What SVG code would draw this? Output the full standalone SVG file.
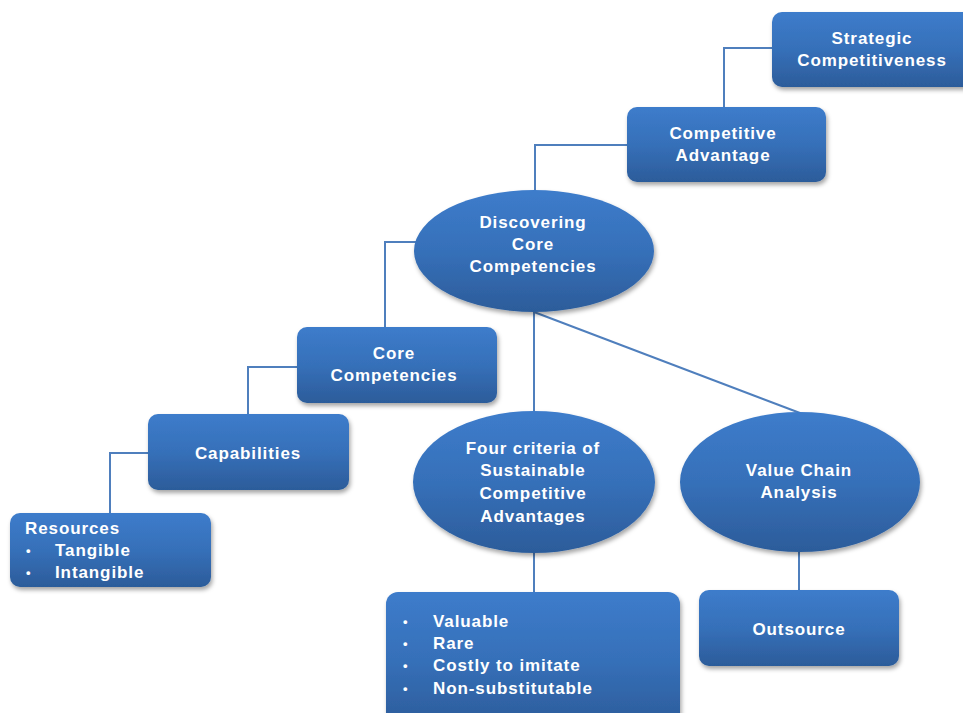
<svg xmlns="http://www.w3.org/2000/svg" width="963" height="713" viewBox="0 0 963 713">
  <style>
    .node { fill: url(#blueGrad); filter: url(#shadow); }
    .lbl { font-family: "Liberation Sans", Arial, sans-serif; font-size: 17px; font-weight: bold; fill: #ffffff; text-anchor: middle; letter-spacing: 0.9px; }
    .lft { text-anchor: start; }
    .dot { font-family: "Liberation Sans", Arial, sans-serif; font-size: 13px; font-weight: bold; fill: #ffffff; }
    .wire { fill: none; stroke: #4f7fbd; stroke-width: 2; }
  </style>
  <defs>
    <linearGradient id="blueGrad" x1="0" y1="0" x2="0" y2="1">
      <stop offset="0" stop-color="#3d7ccb"/>
      <stop offset="0.5" stop-color="#3670b9"/>
      <stop offset="1" stop-color="#2c5c9a"/>
    </linearGradient>
    <filter id="shadow" x="-10%" y="-10%" width="125%" height="135%">
      <feDropShadow dx="1.5" dy="3" stdDeviation="2.2" flood-color="#000" flood-opacity="0.35"/>
    </filter>
  </defs>
  <rect width="963" height="713" fill="#ffffff"/>

  <!-- connectors -->
  <g id="connectors">
    <polyline class="wire" points="772,48 724,48 724,108"/>
    <polyline class="wire" points="627,145 535,145 535,192"/>
    <polyline class="wire" points="437,222 437,242 385,242 385,328"/>
    <polyline class="wire" points="298,367 248,367 248,415"/>
    <polyline class="wire" points="158,433 158,453 110,453 110,514"/>
    <line class="wire" x1="534" y1="312" x2="534" y2="412"/>
    <line class="wire" x1="534" y1="312" x2="800" y2="413"/>
    <line class="wire" x1="534" y1="552" x2="534" y2="593"/>
    <line class="wire" x1="799" y1="552" x2="799" y2="591"/>
  </g>

  <g id="strategic-competitiveness">
    <rect class="node" x="772" y="12" width="205" height="75" rx="10"/>
    <text class="lbl" x="872" y="44">Strategic</text>
    <text class="lbl" x="872" y="66">Competitiveness</text>
  </g>

  <g id="competitive-advantage">
    <rect class="node" x="627" y="107" width="199" height="75" rx="10"/>
    <text class="lbl" x="723" y="139">Competitive</text>
    <text class="lbl" x="723" y="161">Advantage</text>
  </g>

  <g id="discovering-core-competencies">
    <ellipse class="node" cx="534" cy="251" rx="120" ry="61"/>
    <text class="lbl" x="533" y="228">Discovering</text>
    <text class="lbl" x="533" y="250">Core</text>
    <text class="lbl" x="533" y="272">Competencies</text>
  </g>

  <g id="core-competencies">
    <rect class="node" x="297" y="327" width="200" height="76" rx="10"/>
    <text class="lbl" x="394" y="359">Core</text>
    <text class="lbl" x="394" y="381">Competencies</text>
  </g>

  <g id="capabilities">
    <rect class="node" x="148" y="414" width="201" height="76" rx="10"/>
    <text class="lbl" x="248" y="459">Capabilities</text>
  </g>

  <g id="resources">
    <rect class="node" x="10" y="513" width="201" height="74" rx="10"/>
    <text class="lbl lft" x="25" y="534">Resources</text>
    <text class="dot" x="26" y="555">•</text>
    <text class="lbl lft" x="55" y="556">Tangible</text>
    <text class="dot" x="26" y="577">•</text>
    <text class="lbl lft" x="55" y="578">Intangible</text>
  </g>

  <g id="four-criteria">
    <ellipse class="node" cx="534" cy="482" rx="121" ry="71"/>
    <text class="lbl" x="533" y="454">Four criteria of</text>
    <text class="lbl" x="533" y="476">Sustainable</text>
    <text class="lbl" x="533" y="499">Competitive</text>
    <text class="lbl" x="533" y="522">Advantages</text>
  </g>

  <g id="value-chain-analysis">
    <ellipse class="node" cx="800" cy="482" rx="120" ry="70"/>
    <text class="lbl" x="799" y="476">Value Chain</text>
    <text class="lbl" x="799" y="498">Analysis</text>
  </g>

  <g id="criteria-list">
    <rect class="node" x="386" y="592" width="294" height="135" rx="12"/>
    <text class="dot" x="403" y="626">•</text>
    <text class="lbl lft" x="433" y="627">Valuable</text>
    <text class="dot" x="403" y="648">•</text>
    <text class="lbl lft" x="433" y="649">Rare</text>
    <text class="dot" x="403" y="670">•</text>
    <text class="lbl lft" x="433" y="671">Costly to imitate</text>
    <text class="dot" x="403" y="693">•</text>
    <text class="lbl lft" x="433" y="694">Non-substitutable</text>
  </g>

  <g id="outsource">
    <rect class="node" x="699" y="590" width="200" height="76" rx="10"/>
    <text class="lbl" x="799" y="635">Outsource</text>
  </g>
</svg>
